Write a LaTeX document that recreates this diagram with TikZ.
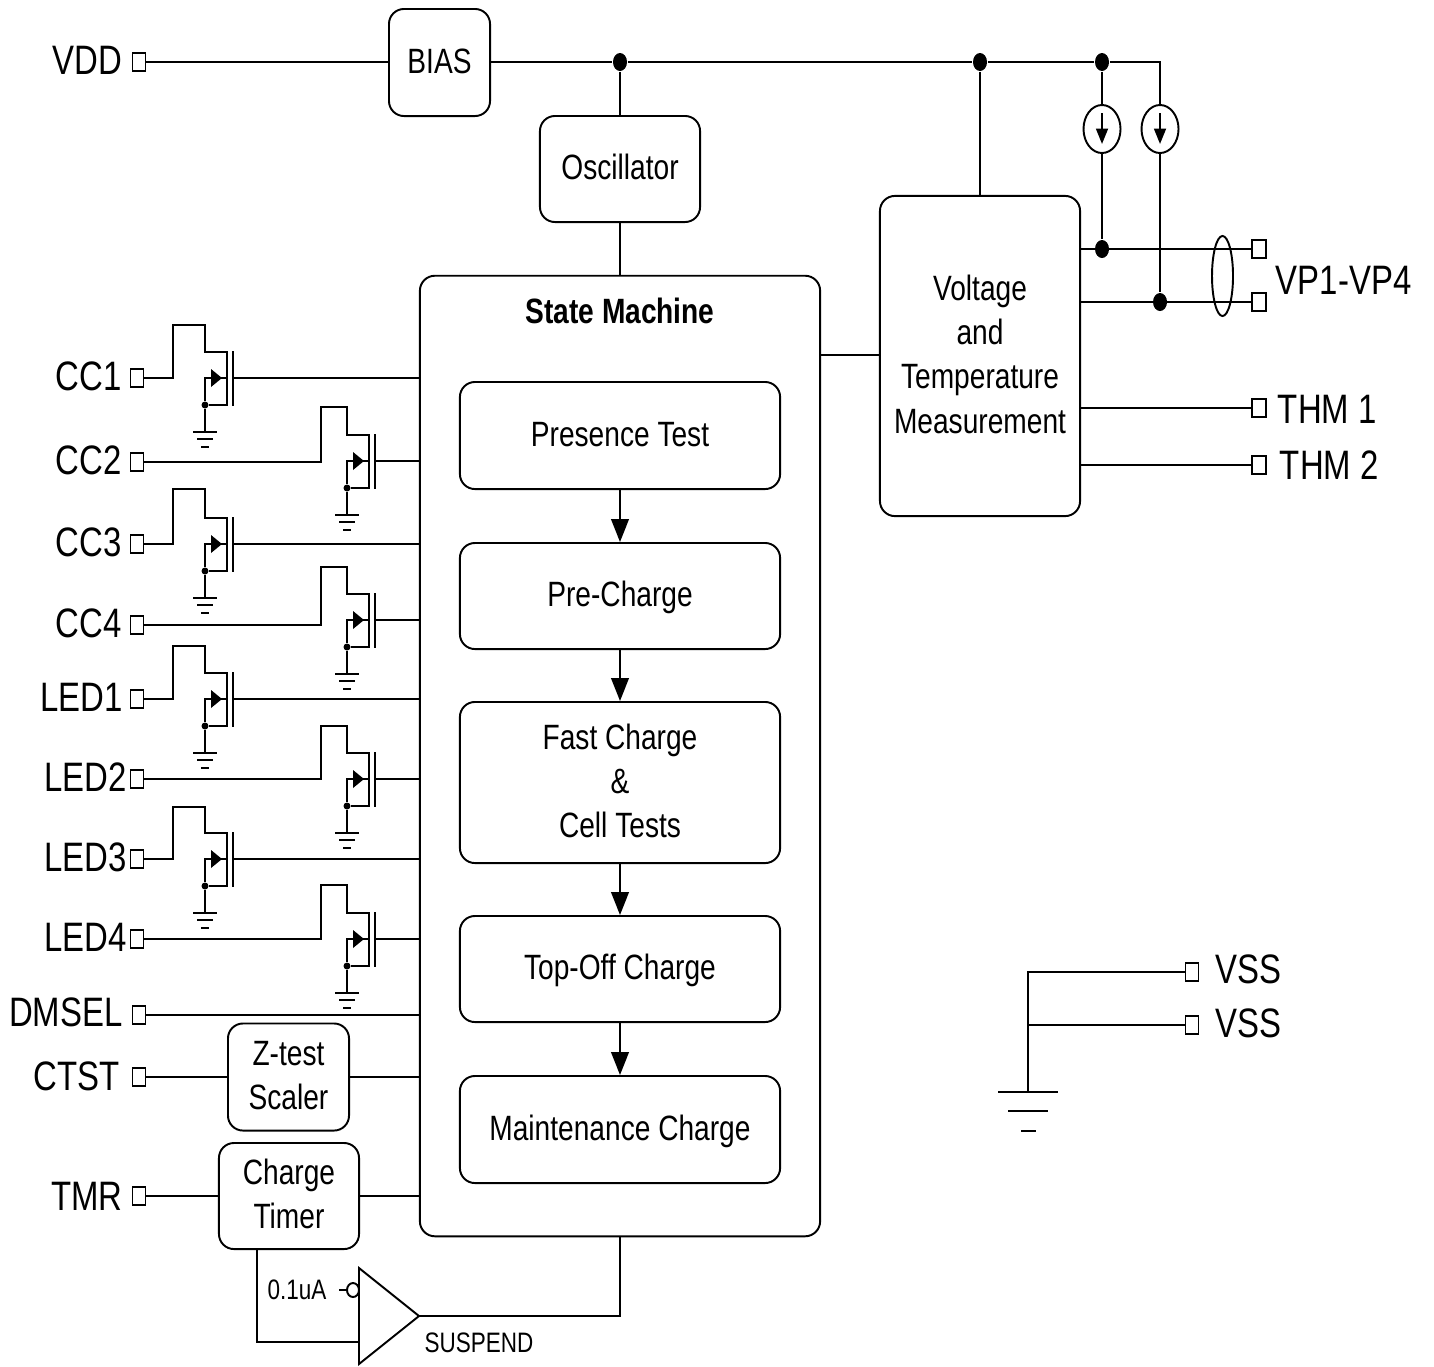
\documentclass[tikz,border=0pt]{standalone}
\usepackage{fontspec}
\setmainfont[FakeStretch=0.8]{Liberation Sans}
\usetikzlibrary{calc,arrows.meta,shapes.geometric}
\newcommand{\lift}{\rule[-1.1pt]{0pt}{1.1pt}}
\tikzset{
	every path/.style={line width=0.55pt},
	box/.style={draw,rounded corners=0.15cm,align=center,inner sep=0pt,font=\fontsize{10}{12.6}\selectfont},
	single/.style={text height=7.2pt,text depth=1pt},
	lab/.style={inner sep=0pt,font=\fontsize{11.7}{14}\selectfont},
	small/.style={inner sep=0pt,font=\fontsize{8}{10}\selectfont},
	pinbox/.style={draw,inner sep=0pt,minimum width=0.13cm,minimum height=0.18cm},
	dot/.style={ellipse,fill=black,inner sep=0pt,minimum width=0.14cm,minimum height=0.18cm},
	tinydot/.style={circle,fill=black,inner sep=0pt,minimum size=0.07cm},
	src/.style={draw,ellipse,inner sep=0pt,minimum width=0.37cm,minimum height=0.48cm},
	>={Triangle[width=5pt,length=6.5pt]}
}
\begin{document}
\begin{tikzpicture}[x=0.01cm,y=-0.01cm]
	\useasboundingbox (0,0) rectangle (1434,1366);
	% blocks
	\node[box,single,minimum width=1.01cm,minimum height=1.07cm] (bias) at (439.5,62.5) {BIAS};
	\node[box,single,minimum width=1.6cm,minimum height=1.06cm] (osc) at (620,169) {Oscillator};
	\node[box,minimum width=4cm,minimum height=9.6cm] (sm) at (620,756) {};
	\node[inner sep=0pt,font=\fontsize{10}{12.6}\selectfont\bfseries] (smtitle) at (620,311) {State Machine};
	\node[box,single,minimum width=3.2cm,minimum height=1.07cm] (pres) at (620,435.5) {Presence Test};
	\node[box,single,minimum width=3.2cm,minimum height=1.06cm] (pre) at (620,596) {Pre-Charge};
	\node[box,minimum width=3.2cm,minimum height=1.61cm] (fast) at (620,782.5) {Fast Charge\\\&\\Cell Tests\lift};
	\node[box,single,minimum width=3.2cm,minimum height=1.06cm] (top) at (620,969) {Top-Off Charge};
	\node[box,single,minimum width=3.2cm,minimum height=1.07cm] (maint) at (620,1129.5) {Maintenance Charge};
	\node[box,minimum width=2cm,minimum height=3.2cm] (meas) at (980,356) {Voltage\\and\\Temperature\\Measurement\lift};
	\node[box,minimum width=1.21cm,minimum height=1.07cm] (ztest) at (288.5,1077) {Z-test\\Scaler\lift};
	\node[box,minimum width=1.4cm,minimum height=1.06cm] (timer) at (289,1196) {Charge\\Timer\lift};
	% flow inside the state machine
	\foreach \a/\b in {pres/pre,pre/fast,fast/top,top/maint}{\draw[->] (\a) -- (\b);}
	% output switches
	\foreach \n/\lx/\py/\gy/\yt/\xu/\xs in {CC1/122.5/378/378/325/173/205,CC2/122.5/462/461/407/321/347,CC3/122.5/544/544/489/173/205,CC4/122.5/625/620/567/321/347,LED1/124/699/699/646/173/205,LED2/128/779/779/726/321/347,LED3/128/859/859/807/173/205,LED4/128/939/939/885/321/347}{
		\node[pinbox] (pin\n) at (137,\py) {};
		\node[lab,anchor=east] (lab\n) at (\lx,{\py-1.5}) {\n};
		\coordinate (gate\n) at ({\xs+28},\gy);
		\node[tinydot] (dot\n) at (\xs,{\gy+27}) {};
		\draw (pin\n) -- (\xu,\py) -- (\xu,\yt) -- (\xs,\yt) -- (\xs,{\gy-26}) -- ({\xs+22},{\gy-26}) -- ({\xs+22},{\gy+27}) -- (dot\n) -- (\xs,\gy) -- ({\xs+22},\gy);
		\fill ({\xs+6},{\gy-9}) -- ({\xs+17},\gy) -- ({\xs+6},{\gy+9}) -- cycle;
		\draw ({\xs+28},{\gy-27}) -- ({\xs+28},{\gy+28});
		\draw (gate\n) -- (gate\n -| sm.west);
		\draw (dot\n) -- (\xs,{\gy+54});
		\draw ({\xs-12},{\gy+54}) -- ({\xs+12},{\gy+54});
		\draw ({\xs-8},{\gy+61}) -- ({\xs+8},{\gy+61});
		\draw ({\xs-4},{\gy+69}) -- ({\xs+4},{\gy+69});
	}
	% other pins on the left
	\node[pinbox] (pinVDD) at (139,62) {};
	\node[lab,anchor=east] (labVDD) at (123,60) {VDD};
	\node[pinbox] (pinDMSEL) at (139,1015) {};
	\node[lab,anchor=east] (labDMSEL) at (123.5,1012) {DMSEL};
	\node[pinbox] (pinCTST) at (139,1077) {};
	\node[lab,anchor=east] (labCTST) at (120.5,1076) {CTST};
	\node[pinbox] (pinTMR) at (139,1196) {};
	\node[lab,anchor=east] (labTMR) at (123.5,1196) {TMR};
	\draw (pinVDD) -- (pinVDD -| bias.west);
	\draw (pinDMSEL) -- (pinDMSEL -| sm.west);
	\draw (pinCTST) -- (ztest);
	\draw (ztest) -- (ztest -| sm.west);
	\draw (pinTMR) -- (timer);
	\draw (timer) -- (timer -| sm.west);
	% supply rail
	\node[dot] (d1) at (620,62) {};
	\node[dot] (d2) at (980,62) {};
	\node[dot] (d3) at (1102,62) {};
	\node[dot] (d4) at (1102,249) {};
	\node[dot] (d5) at (1160,302) {};
	\coordinate (railend) at (1160,62);
	\node[src] (s1) at (1102,129) {};
	\node[src] (s2) at (1160,129) {};
	\draw (d1 -| bias.east) -- (d1) -- (d2) -- (d3) -- (railend) -- (s2) -- (d5);
	\draw (d1) -- (osc);
	\draw (osc) -- (osc |- sm.north);
	\draw (d2) -- (d2 |- meas.north);
	\draw (d3) -- (s1) -- (d4);
	\foreach \s in {s1,s2}{\draw[-{Triangle[width=3.4pt,length=4.4pt]}] ($(\s)+(0,-16)$) -- ($(\s)+(0,15)$);}
	\coordinate (smout) at (820,355);
	\draw (smout) -- (smout -| meas.west);
	% pins on the right
	\node[pinbox,minimum width=0.14cm] (pinVP1) at (1259,249) {};
	\node[pinbox,minimum width=0.14cm] (pinVP2) at (1259,302) {};
	\node[pinbox,minimum width=0.14cm] (pinTHM1) at (1259,408) {};
	\node[pinbox,minimum width=0.14cm] (pinTHM2) at (1259,465) {};
	\node[lab,anchor=west] (labVP) at (1275,280) {VP1-VP4};
	\node[lab,anchor=west] (labTHM1) at (1277,409) {THM 1};
	\node[lab,anchor=west] (labTHM2) at (1279,465) {THM 2};
	\foreach \p in {VP1,VP2,THM1,THM2}{\draw (pin\p) -- (pin\p -| meas.east);}
	\node[draw,ellipse,inner sep=0pt,minimum width=0.21cm,minimum height=0.8cm] (bundle) at (1222.5,276) {};
	% ground
	\node[pinbox] (pinVSS1) at (1192,972) {};
	\node[pinbox] (pinVSS2) at (1192,1025) {};
	\node[lab,anchor=west] (labVSS1) at (1215,969) {VSS};
	\node[lab,anchor=west] (labVSS2) at (1215,1023) {VSS};
	\coordinate (gnd) at (1028,1092);
	\coordinate (gndtop) at (1028,972);
	\coordinate (gndmid) at (1028,1025);
	\draw (pinVSS1) -- (gndtop) -- (gnd);
	\draw (pinVSS2) -- (gndmid);
	\draw (998,1092) -- (1058,1092);
	\draw (1008,1111) -- (1048,1111);
	\draw (1021,1131) -- (1036,1131);
	% suspend comparator
	\coordinate (cmpa) at (359,1268);
	\coordinate (cmpb) at (359,1364);
	\coordinate (cmpout) at (419,1316);
	\coordinate (cmpin) at (359,1342);
	\coordinate (tap) at (257,1249);
	\draw (cmpa) -- (cmpout) -- (cmpb) -- cycle;
	\draw (tap) -- (tap |- cmpin) -- (cmpin);
	\draw (cmpout) -- (cmpout -| sm.south) -- (sm.south);
	\node[draw,ellipse,inner sep=0pt,minimum width=0.12cm,minimum height=0.14cm] (bubble) at (353,1290) {};
	\coordinate (bubblein) at (339,1290);
	\draw (bubblein) -- (bubble);
	\node[small] (labI) at (297,1290) {0.1uA};
	\node[small] (labSusp) at (479,1343) {SUSPEND};
\end{tikzpicture}
\end{document}
